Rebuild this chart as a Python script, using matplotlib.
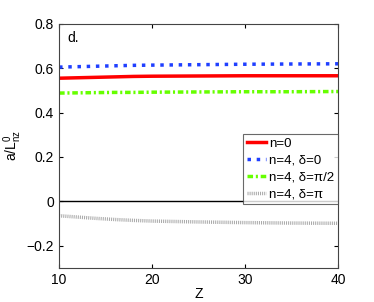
import matplotlib
matplotlib.use('Agg')
import matplotlib.pyplot as plt
import numpy as np

plt.rcParams['font.family'] = ['Liberation Sans', 'DejaVu Sans']
plt.rcParams['mathtext.default'] = 'regular'

# значения
z = [10, 12, 14, 16, 18, 20, 25, 30, 35, 40]
n0 = [0.555, 0.557, 0.559, 0.561, 0.563, 0.564, 0.565, 0.566, 0.566, 0.566]
n4_d0 = [0.605, 0.607, 0.609, 0.611, 0.613, 0.614, 0.616, 0.618, 0.619, 0.620]
n4_dpi2 = [0.488, 0.489, 0.490, 0.491, 0.491, 0.492, 0.493, 0.494, 0.494, 0.495]
n4_dpi = [-0.065, -0.071, -0.077, -0.082, -0.086, -0.089, -0.093, -0.096, -0.098, -0.099]
labels = ['n=0', 'n=4, δ=0', 'n=4, δ=π/2', 'n=4, δ=π']

fig = plt.figure(figsize=(3.74, 3.02), dpi=100)
ax = fig.add_axes([0.158, 0.113, 0.746, 0.808])

ax.plot(z, n0, '-', color='#ff0000', lw=2.5, label=labels[0])
ax.plot(z, n4_d0, ':', color='#1f3fff', lw=2.5, label=labels[1])
ax.plot(z, n4_dpi2, '-.', color='#66ff00', lw=2.5, dashes=(1.6, 0.8, 0.6, 0.8), label=labels[2])
ax.plot(z, n4_dpi, ':', color='#aaaaaa', lw=2.5, dashes=(0.3, 0.3), label=labels[3])
ax.axhline(0, color='k', lw=1)

ax.set_xlim(10, 40)
ax.set_ylim(-0.3, 0.8)
ax.set_xticks([10, 20, 30, 40])
ax.set_yticks([-0.2, 0, 0.2, 0.4, 0.6, 0.8])
ax.set_yticklabels(['\u22120.2', '0', '0.2', '0.4', '0.6', '0.8'])
ax.tick_params(direction='in', top=True, right=True, labelsize=10, length=3)
for s in ax.spines.values():
    s.set_color('#444444')

ax.set_xlabel('Z', fontsize=10, labelpad=0)
ax.set_ylabel('a/L$^0_{nz}$', fontsize=10, labelpad=2)
ax.text(0.03, 0.97, 'd.', transform=ax.transAxes, va='top', ha='left', fontsize=10)

leg = ax.legend(loc='lower right', bbox_to_anchor=(1.0, 0.26), fontsize=9.5,
                frameon=True, fancybox=False, borderpad=0.3, labelspacing=0.35,
                handlelength=1.5, handletextpad=0.2, borderaxespad=0)
leg.get_frame().set_edgecolor('#444444')
leg.get_frame().set_linewidth(0.8)

fig.savefig('out.png', dpi=100)
